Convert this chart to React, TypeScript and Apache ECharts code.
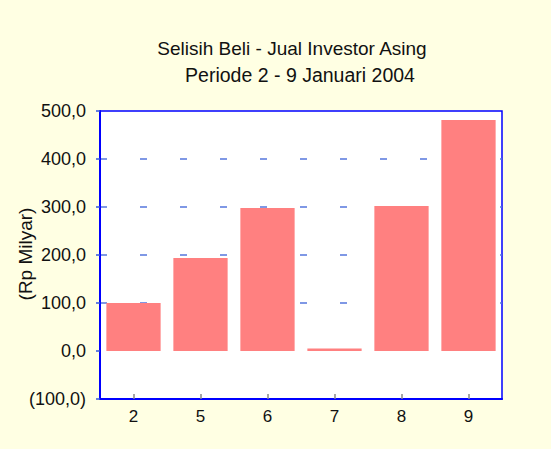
import React, { useEffect, useRef } from "react";
import * as echarts from "echarts";

const categories = ["2", "5", "6", "7", "8", "9"];
const netBuy = [100, 194, 298, 5, 302, 481];
const titleLine1 = "Selisih Beli - Jual Investor Asing";
const titleLine2 = "Periode 2 - 9 Januari 2004";
const yAxisName = "(Rp Milyar)";

const FONT = "'Liberation Sans', Arial, sans-serif";
const GRID_BLUE = "#5577DD";

function fmt(v: number): string {
  const s = Math.abs(v).toFixed(1).replace(".", ",");
  return v < 0 ? "(" + s + ")" : s;
}

export default function App() {
  const ref = useRef<HTMLDivElement>(null);
  useEffect(() => {
    const chart = echarts.init(ref.current!, null, { renderer: "svg" });
    chart.setOption({
      animation: false,
      backgroundColor: "#FFFFE3",
      textStyle: { fontFamily: FONT },
      title: [
        {
          text: titleLine1,
          left: 287,
          top: 34,
          textAlign: "center",
          textStyle: { fontFamily: FONT, fontSize: 19, fontWeight: "normal", color: "#111" },
        },
        {
          text: titleLine2,
          left: 295,
          top: 60,
          textAlign: "center",
          textStyle: { fontFamily: FONT, fontSize: 19.5, fontWeight: "normal", color: "#111" },
        },
      ],
      graphic: [
        {
          type: "text",
          x: 25,
          y: 254,
          rotation: Math.PI / 2,
          style: {
            text: yAxisName,
            fontFamily: FONT,
            fontSize: 19,
            fill: "#111",
            align: "center",
            verticalAlign: "middle",
          },
        },
      ],
      grid: {
        left: 100,
        top: 111,
        width: 402,
        height: 288,
        containLabel: false,
        outerBoundsMode: "none",
        show: true,
        backgroundColor: "#FFFFFF",
        borderColor: "#0000FF",
        borderWidth: 1.5,
      },
      xAxis: {
        type: "category",
        data: categories,
        axisLine: { show: true, onZero: false, lineStyle: { color: "#0000FF", width: 2 } },
        axisTick: { show: true, inside: true, alignWithLabel: true, length: 5, lineStyle: { color: "#888888", width: 1.5 } },
        axisLabel: { color: "#111", fontSize: 17, fontFamily: FONT, margin: 9 },
        splitLine: { show: false },
      },
      yAxis: {
        type: "value",
        min: -100,
        max: 500,
        interval: 100,
        axisLine: { show: true, lineStyle: { color: "#0000FF", width: 2 } },
        axisTick: { show: true, length: 4, lineStyle: { color: "#3355DD", width: 1.5 } },
        axisLabel: { color: "#111", fontSize: 18, fontFamily: FONT, margin: 14, formatter: (v: number) => fmt(v) },
        splitLine: {
          show: true,
          showMinLine: false,
          showMaxLine: false,
          lineStyle: {
            color: ["rgba(0,0,0,0)", GRID_BLUE, GRID_BLUE, GRID_BLUE, GRID_BLUE],
            width: 1.5,
            type: [7, 33],
          },
        },
      },
      series: [
        {
          type: "bar",
          data: netBuy,
          barCategoryGap: "19%",
          itemStyle: { color: "#FF8080" },
        },
      ],
    });
    return () => chart.dispose();
  }, []);
  return <div ref={ref} style={{ position: "fixed", left: 0, top: 0, width: 551, height: 449 }} />;
}
